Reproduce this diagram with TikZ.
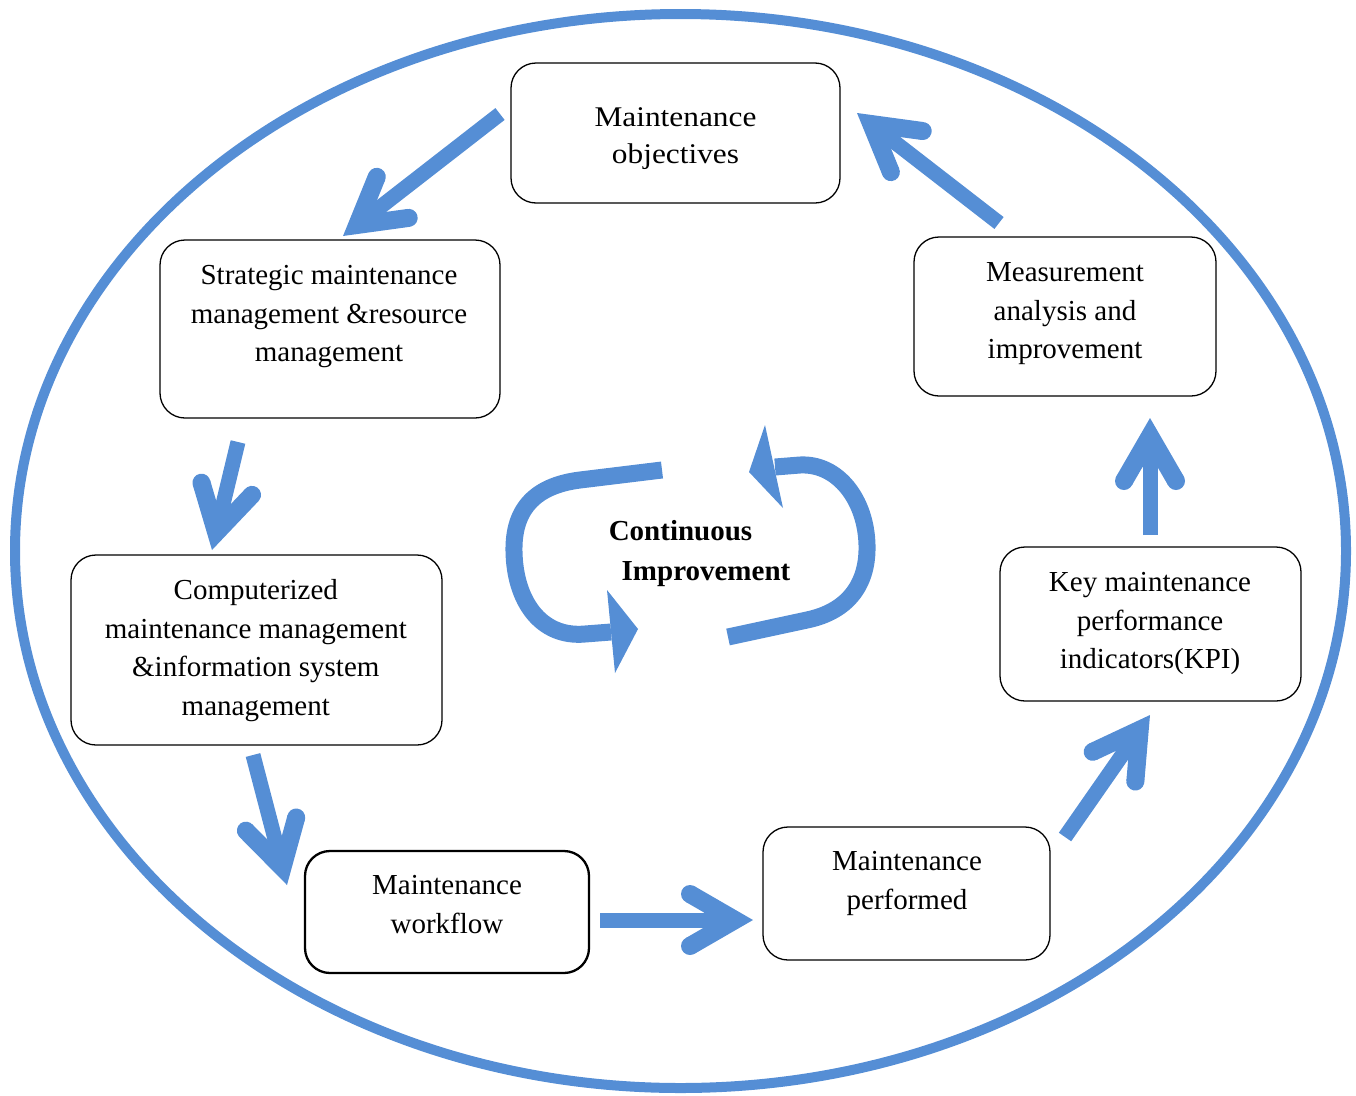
\documentclass[tikz,border=0pt]{standalone}
\usepackage{fontspec}
\setmainfont{Liberation Serif}
\newfontfamily\widefont{Liberation Serif}[FakeStretch=1.1]
\usetikzlibrary{calc}
\definecolor{cycleblue}{RGB}{85,142,213}

\tikzset{
  box/.style={draw=black, line width=1.3pt, rounded corners=25pt,
              inner sep=0pt, outer sep=0pt},
  % anchored at the baseline of the last line
  boxtext/.style={align=center, inner sep=0pt, anchor=base,
                  font=\fontsize{29}{38.7}\selectfont},
  shaft/.style={draw=cycleblue, line width=15pt},
  loopline/.style={draw=cycleblue, line width=17pt},
  pics/chevhead/.style={code={
    \fill[cycleblue] (0,0) -- (-58.5,33.8) -- (-67.5,18.2) -- (-49,7.5)
                     -- (-49,-7.5) -- (-67.5,-18.2) -- (-58.5,-33.8) -- cycle;
    \fill[cycleblue] (-63,26) circle [radius=9];
    \fill[cycleblue] (-63,-26) circle [radius=9];
  }}
}

% thick block arrow: shaft from #1, chevron head with its tip at #2
\newcommand\blockarrow[2]{%
  \draw[shaft, shorten >=35pt] (#1) -- (#2);
  \pgfmathanglebetweenpoints{\pgfpointanchor{#1}{center}}{\pgfpointanchor{#2}{center}}%
  \let\chevang\pgfmathresult
  \pic[rotate=\chevang] at (#2) {chevhead};
}

\begin{document}
\begin{tikzpicture}[x=1pt, y=-1pt]
  \useasboundingbox (0,0) rectangle (1356,1095);

  % outer cycle
  \draw[cycleblue, line width=10pt] (680.5,551) ellipse [x radius=665.5, y radius=537];

  % process boxes
  \node[box, minimum width=329pt, minimum height=140pt] (obj)  at (675.5,133) {};
  \node[box, minimum width=340pt, minimum height=178pt] (strat) at (330,329) {};
  \node[box, minimum width=371pt, minimum height=190pt] (cmms) at (256.5,650) {};
  \node[box, line width=2.3pt, minimum width=284pt, minimum height=122pt] (flow) at (447,912) {};
  \node[box, minimum width=287pt, minimum height=133pt] (perf) at (906.5,893.5) {};
  \node[box, minimum width=301pt, minimum height=154pt] (kpi)  at (1150.5,624) {};
  \node[box, minimum width=302pt, minimum height=159pt] (meas) at (1065,316.5) {};

  % box texts
  \node[boxtext, font=\widefont\fontsize{28.5}{37}\selectfont] (objT) at (675.5,163.5) {Maintenance\\objectives};
  \node[boxtext] (stratT) at (329,361.7) {Strategic maintenance\\management \&resource\\management};
  \node[boxtext] (cmmsT) at (255.8,715.4) {Computerized\\maintenance management\\\&information system\\management};
  \node[boxtext] (flowT) at (447,933.2) {Maintenance\\workflow};
  \node[boxtext] (perfT) at (907,909.2) {Maintenance\\performed};
  \node[boxtext] (kpiT) at (1150,668.9) {Key maintenance\\performance\\indicators(KPI)};
  \node[boxtext] (measT) at (1065,358.9) {Measurement\\analysis and\\improvement};

  % arrow end points
  \coordinate (a1s) at (500,114);  \coordinate (a1t) at (343,236);
  \coordinate (a2s) at (238,442);  \coordinate (a2t) at (212,550);
  \coordinate (a3s) at (253,755);  \coordinate (a3t) at (287,885);
  \coordinate (a4s) at (600,920);  \coordinate (a4t) at (753,920);
  \coordinate (a5s) at (1065,837); \coordinate (a5t) at (1150,715);
  \coordinate (a6s) at (1150,535); \coordinate (a6t) at (1150,418);
  \coordinate (a7s) at (999,223);  \coordinate (a7t) at (857,113);

  \blockarrow{a1s}{a1t}
  \blockarrow{a2s}{a2t}
  \blockarrow{a3s}{a3t}
  \blockarrow{a4s}{a4t}
  \blockarrow{a5s}{a5t}
  \blockarrow{a6s}{a6t}
  \blockarrow{a7s}{a7t}

  % continuous improvement loop
  \coordinate (lA) at (662,470);
  \coordinate (lB) at (611,632);
  \coordinate (rA) at (728,637);
  \coordinate (rB) at (775,467);
  \draw[loopline] (lA) -- (580,480) .. controls (532,486) and (513,512) .. (514,552)
        .. controls (515,600) and (540,638) .. (585,634) -- (lB);
  \fill[cycleblue] (638,629) -- (607,590) -- (615,673) -- cycle;
  \draw[loopline] (rA) -- (807,620) .. controls (850,611) and (868,582) .. (867,545)
        .. controls (866,500) and (838,463) .. (800,465) -- (rB);
  \fill[cycleblue] (749,472) -- (765,425) -- (783,508) -- cycle;

  \node[anchor=base, inner sep=0pt, font=\bfseries\fontsize{29}{34}\selectfont] (ci1) at (680.5,540) {Continuous};
  \node[anchor=base, inner sep=0pt, font=\bfseries\fontsize{29}{34}\selectfont] (ci2) at (706,580) {Improvement};
\end{tikzpicture}
\end{document}
